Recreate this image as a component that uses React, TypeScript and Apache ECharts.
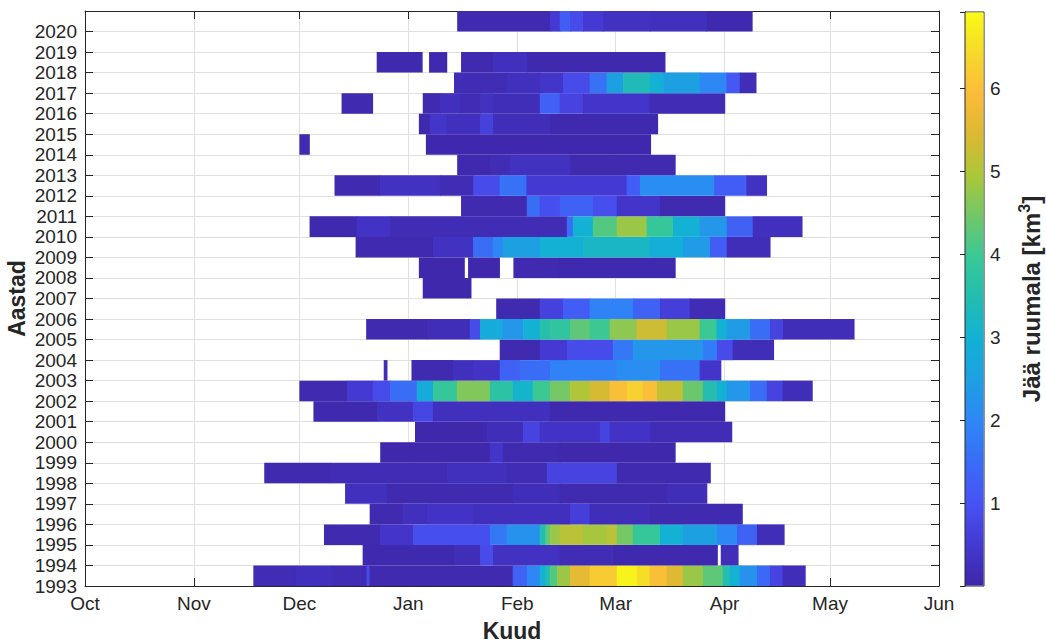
import React, { useEffect, useRef } from 'react';
import * as echarts from 'echarts';

// Each run: [startDay, endDay, value] — days counted from 1 October of the season
type Run = [number, number, number];

const MONTH_LABELS = ['Oct', 'Nov', 'Dec', 'Jan', 'Feb', 'Mar', 'Apr', 'May', 'Jun'];
const MONTH_START_DAYS = [0, 31, 61, 92, 123, 151, 182, 212, 243];
const COLORBAR_TICKS = [1, 2, 3, 4, 5, 6];
const CB_MIN = 0;
const CB_MAX = 6.92;

const Y1993: Run[] = [[47.9, 60, 0.15], [60, 70, 0.25], [70, 80.1, 0.15], [80.1, 80.9, 0.85], [80.9, 121.7, 0.1], [121.7, 125.7, 1.3], [125.7, 129.4, 2.0], [129.4, 131, 3.0], [131, 132.3, 3.5], [132.3, 134.3, 4.2], [134.3, 138.0, 4.8], [138.0, 143.6, 5.6], [143.6, 151.3, 6.2], [151.3, 157.0, 6.8], [157.0, 160.7, 6.5], [160.7, 165.5, 6.0], [165.5, 170.1, 5.5], [170.1, 175.8, 4.8], [175.8, 181.5, 4.3], [181.5, 183.5, 3.5], [183.5, 186.3, 3.0], [186.3, 191.2, 2.2], [191.2, 194.9, 1.4], [194.9, 198.5, 0.7], [198.5, 204.9, 0.2]];
const Y1994: Run[] = [[79.0, 105.0, 0.08], [105.0, 112.4, 0.2], [112.4, 116.1, 0.85], [116.1, 135.1, 0.3], [135.1, 150, 0.15], [150, 179.9, 0.08], [180.9, 185.8, 0.2]];
const Y1995: Run[] = [[68.0, 83.9, 0.1], [83.9, 93.3, 0.4], [93.3, 115.2, 0.9], [115.2, 120.0, 1.7], [120.0, 129.4, 2.2], [129.4, 131, 3.5], [131, 132.3, 4.3], [132.3, 135.1, 4.8], [135.1, 141.7, 5.1], [141.7, 148.5, 4.9], [148.5, 151.3, 5.1], [151.3, 155.9, 4.5], [155.9, 163.6, 3.9], [163.6, 170.1, 3.0], [170.1, 179.8, 2.5], [179.8, 185.5, 2.0], [185.5, 191.2, 1.3], [191.2, 198.9, 0.2]];
const Y1996: Run[] = [[81.0, 90.5, 0.1], [90.5, 97.3, 0.25], [97.3, 110.4, 0.35], [110.4, 138.0, 0.25], [138.0, 143.6, 0.6], [143.6, 160.7, 0.2], [160.7, 187.0, 0.1]];
const Y1997: Run[] = [[74.0, 85.9, 0.25], [85.9, 121.7, 0.1], [121.7, 135.1, 0.2], [135.1, 165.5, 0.1], [165.5, 176.9, 0.2]];
const Y1998: Run[] = [[51.0, 69.7, 0.1], [69.7, 103.0, 0.15], [103.0, 120.0, 0.25], [120.0, 131.4, 0.15], [131.4, 151.3, 0.7], [151.3, 177.9, 0.1]];
const Y1999: Run[] = [[84.0, 115.2, 0.05], [115.2, 118.9, 0.4], [118.9, 135.1, 0.1], [135.1, 167.9, 0.05]];
const Y2000: Run[] = [[93.9, 114.3, 0.05], [114.3, 124.6, 0.2], [124.6, 129.4, 0.7], [129.4, 146.5, 0.35], [146.5, 149.3, 0.7], [149.3, 160.7, 0.35], [160.7, 184.0, 0.15]];
const Y2001: Run[] = [[65.0, 83.1, 0.08], [83.1, 93.3, 0.3], [93.3, 99.0, 0.75], [99.0, 132.3, 0.25], [132.3, 182.0, 0.08]];
const Y2002: Run[] = [[61.0, 74.5, 0.1], [74.5, 81.9, 0.5], [81.9, 86.8, 0.85], [86.8, 94.4, 1.5], [94.4, 99.0, 2.8], [99.0, 105.8, 3.9], [105.8, 115.2, 4.6], [115.2, 121.7, 3.7], [121.7, 127.4, 3.1], [127.4, 132.3, 4.0], [132.3, 138.0, 4.5], [138.0, 143.6, 5.0], [143.6, 149.3, 5.4], [149.3, 154.2, 6.0], [154.2, 158.7, 6.3], [158.7, 162.7, 6.0], [162.7, 170.1, 5.2], [170.1, 175.8, 4.4], [175.8, 179.8, 3.5], [179.8, 182.6, 3.0], [182.6, 189.2, 2.3], [189.2, 194.0, 1.5], [194.0, 198.5, 0.7], [198.5, 206.9, 0.2]];
const Y2003: Run[] = [[85.0, 85.9, 0.2], [92.9, 104.7, 0.1], [104.7, 110.4, 0.25], [110.4, 118.0, 0.35], [118.0, 123.7, 1.3], [123.7, 132.3, 1.5], [132.3, 151.3, 1.9], [151.3, 163.6, 2.1], [163.6, 174.9, 1.6], [174.9, 180.9, 0.4]];
const Y2004: Run[] = [[118.0, 129.4, 0.1], [129.4, 137.1, 0.5], [137.1, 150.2, 0.85], [150.2, 155.9, 1.7], [155.9, 175.8, 2.3], [175.8, 179.8, 1.8], [179.8, 184.3, 0.85], [184.3, 195.9, 0.2]];
const Y2005: Run[] = [[80.0, 97.3, 0.1], [97.3, 109.5, 0.2], [109.5, 112.4, 0.85], [112.4, 118.9, 2.8], [118.9, 124.7, 2.3], [124.7, 129.4, 3.0], [129.4, 132.3, 3.6], [132.3, 138.0, 3.8], [138.0, 143.6, 4.3], [143.6, 149.3, 4.0], [149.3, 156.9, 4.7], [156.9, 165.5, 5.3], [165.5, 174.9, 4.8], [174.9, 179.7, 4.0], [179.7, 182.5, 3.0], [182.5, 189.2, 2.4], [189.2, 194.9, 1.5], [194.9, 198.6, 0.7], [198.6, 218.8, 0.2]];
const Y2006: Run[] = [[117.0, 129.4, 0.1], [129.4, 136.0, 0.65], [136.0, 143.6, 1.2], [143.6, 155.9, 1.9], [155.9, 163.6, 1.3], [163.6, 172.1, 0.6], [172.1, 182.0, 0.15]];
const Y2007: Run[] = [[96.1, 109.8, 0.05]];
const Y2008: Run[] = [[95.0, 107.9, 0.05], [109.0, 117.9, 0.05], [121.9, 135, 0.1], [135, 167.9, 0.08]];
const Y2009: Run[] = [[77.0, 99.0, 0.1], [99.0, 110.4, 0.3], [110.4, 116.1, 1.5], [116.1, 118.9, 2.0], [118.9, 129.4, 2.5], [129.4, 141.7, 3.0], [141.7, 160.7, 3.2], [160.7, 170.1, 2.9], [170.1, 177.8, 2.4], [177.8, 182.6, 1.2], [182.6, 194.9, 0.2]];
const Y2010: Run[] = [[63.9, 77.4, 0.08], [77.4, 86.8, 0.35], [86.8, 137.1, 0.15], [137.1, 138.8, 1.5], [138.8, 144.5, 3.0], [144.5, 151.3, 4.2], [151.3, 159.8, 4.8], [159.8, 167.3, 3.9], [167.3, 174.9, 3.0], [174.9, 182.6, 2.3], [182.6, 190.0, 1.3], [190.0, 204.0, 0.25]];
const Y2011: Run[] = [[107.0, 125.7, 0.1], [125.7, 129.4, 1.5], [129.4, 135.1, 0.9], [135.1, 144.5, 1.3], [144.5, 151.3, 0.9], [151.3, 163.6, 0.4], [163.6, 182.0, 0.1]];
const Y2012: Run[] = [[71.0, 83.9, 0.1], [83.9, 101.0, 0.3], [101.0, 110.5, 0.15], [110.5, 118.0, 0.85], [118.0, 125.6, 1.6], [125.6, 154.1, 0.5], [154.1, 157.9, 1.2], [157.9, 179.0, 2.1], [179.0, 188.2, 1.2], [188.2, 193.9, 0.3]];
const Y2013: Run[] = [[105.9, 115.2, 0.08], [115.2, 120.9, 0.15], [120.9, 138.0, 0.3], [138.0, 167.9, 0.1]];
const Y2014: Run[] = [[61.0, 63.8, 0.1], [97.0, 160.9, 0.06]];
const Y2015: Run[] = [[95.0, 98.1, 0.08], [98.1, 102.9, 0.4], [102.9, 112.4, 0.25], [112.4, 116.1, 0.65], [116.1, 132.3, 0.2], [132.3, 162.9, 0.08]];
const Y2016: Run[] = [[73.0, 81.8, 0.1], [96.1, 101.0, 0.1], [101.0, 106.7, 0.25], [106.7, 112.4, 0.15], [112.4, 116.1, 0.3], [116.1, 129.4, 0.2], [129.4, 135.1, 1.25], [135.1, 141.7, 0.7], [141.7, 160.7, 0.4], [160.7, 182.0, 0.15]];
const Y2017: Run[] = [[105.0, 120.0, 0.15], [120.0, 129.4, 0.25], [129.4, 136.0, 0.4], [136.0, 143.6, 0.85], [143.6, 148.4, 1.6], [148.4, 153.1, 2.5], [153.1, 160.7, 3.4], [160.7, 164.5, 3.0], [164.5, 174.9, 2.5], [174.9, 182.5, 2.0], [182.5, 186.3, 1.1], [186.3, 190.9, 0.2]];
const Y2018: Run[] = [[83.0, 95.9, 0.08], [97.9, 102.9, 0.08], [107.0, 116.1, 0.1], [116.1, 125.7, 0.25], [125.7, 165.0, 0.08]];
const Y2019: Run[] = [];
const Y2020: Run[] = [[105.9, 132.3, 0.1], [132.3, 135.1, 0.5], [135.1, 138.0, 1.2], [138.0, 141.7, 0.85], [141.7, 147.4, 0.5], [147.4, 160.7, 0.3], [160.7, 176.8, 0.25], [176.8, 189.8, 0.08]];

const SEASONS: Array<[number, Run[]]> = [
  [1993, Y1993], [1994, Y1994], [1995, Y1995], [1996, Y1996], [1997, Y1997], [1998, Y1998], [1999, Y1999],
  [2000, Y2000], [2001, Y2001], [2002, Y2002], [2003, Y2003], [2004, Y2004], [2005, Y2005], [2006, Y2006],
  [2007, Y2007], [2008, Y2008], [2009, Y2009], [2010, Y2010], [2011, Y2011], [2012, Y2012], [2013, Y2013],
  [2014, Y2014], [2015, Y2015], [2016, Y2016], [2017, Y2017], [2018, Y2018], [2019, Y2019], [2020, Y2020],
];

const PARULA = [
  '#3e26a8', '#4439d2', '#4852f4', '#3a6cf6', '#2e87f7', '#1e9fe3', '#12b1d6', '#22bcb2',
  '#37c897', '#70c76a', '#abc739', '#dab932', '#fbbb3a', '#f6d92b', '#f9fb15',
];

const FONT = "'Liberation Sans', Arial, Helvetica, sans-serif";
const TEXT = '#262626';
const AXIS = '#262626';
const GRIDLINE = '#e0e0e0';

export default function App() {
  const ref = useRef<HTMLDivElement>(null);

  useEffect(() => {
    if (!ref.current) return;
    const chart = echarts.init(ref.current, undefined, { renderer: 'svg' });

    const heatData = SEASONS.flatMap(([yr, runs]) => runs.map(([s, e, v]) => [s, e, yr, v]));

    const monthFmt = (v: number) => {
      const i = MONTH_START_DAYS.indexOf(v);
      return i >= 0 ? MONTH_LABELS[i] : '';
    };

    const option: any = {
      animation: false,
      backgroundColor: '#ffffff',
      textStyle: { fontFamily: FONT },
      grid: [
        { left: 85, top: 11, width: 854, height: 575, show: false, containLabel: false, outerBoundsMode: 'none' },
        { left: 965, top: 12, width: 19, height: 574, show: true, borderColor: AXIS, borderWidth: 1, backgroundColor: 'transparent', containLabel: false, outerBoundsMode: 'none' },
      ],
      xAxis: [
        {
          type: 'value', gridIndex: 0, min: 0, max: 243, position: 'bottom',
          axisLine: { show: true, onZero: false, lineStyle: { color: AXIS, width: 1 } },
          axisTick: { show: true, inside: true, length: 8, customValues: MONTH_START_DAYS, lineStyle: { color: AXIS } },
          axisLabel: { customValues: MONTH_START_DAYS, formatter: monthFmt, color: TEXT, fontSize: 19, margin: 8, fontFamily: FONT },
          splitLine: { show: true, lineStyle: { color: GRIDLINE, width: 1 } },
          name: 'Kuud', nameLocation: 'middle', nameGap: 33, nameMoveOverlap: false,
          nameTextStyle: { color: TEXT, fontSize: 23, fontWeight: 'bold', fontFamily: FONT },
        },
        { type: 'value', gridIndex: 1, min: 0, max: 1, show: false },
        {
          type: 'value', gridIndex: 0, min: 0, max: 243, position: 'top',
          axisLine: { show: true, onZero: false, lineStyle: { color: AXIS, width: 1 } },
          axisTick: { show: true, inside: true, length: 8, customValues: MONTH_START_DAYS, lineStyle: { color: AXIS } },
          axisLabel: { show: false },
          splitLine: { show: false },
        },
      ],
      yAxis: [
        {
          type: 'value', gridIndex: 0, min: 1993, max: 2021, interval: 1, position: 'left',
          axisLine: { show: true, onZero: false, lineStyle: { color: AXIS, width: 1 } },
          axisTick: { show: true, inside: true, length: 8, lineStyle: { color: AXIS } },
          axisLabel: { color: TEXT, fontSize: 19, margin: 8, fontFamily: FONT, formatter: (v: number) => (v >= 2021 ? '' : String(v)) },
          splitLine: { show: true, lineStyle: { color: GRIDLINE, width: 1 } },
          name: 'Aastad', nameLocation: 'middle', nameGap: 57, nameRotate: 90, nameMoveOverlap: false,
          nameTextStyle: { color: TEXT, fontSize: 23, fontWeight: 'bold', fontFamily: FONT },
        },
        {
          type: 'value', gridIndex: 1, min: CB_MIN, max: CB_MAX, interval: 1, position: 'right',
          axisLine: { show: true, lineStyle: { color: AXIS, width: 1 } },
          axisTick: { show: true, inside: true, length: 5, lineStyle: { color: AXIS } },
          axisLabel: {
            color: TEXT, fontSize: 19, margin: 6, fontFamily: FONT,
            formatter: (v: number) => (COLORBAR_TICKS.indexOf(v) >= 0 ? String(v) : ''),
          },
          splitLine: { show: false },
          name: 'Jää ruumala [km{sup|3}]', nameLocation: 'middle', nameGap: 32, nameRotate: 90,
          nameTextStyle: {
            color: TEXT, fontSize: 24, fontWeight: 'bold', fontFamily: FONT, lineHeight: 30,
            rich: { sup: { color: TEXT, fontSize: 16, fontWeight: 'bold', fontFamily: FONT, verticalAlign: 'top', lineHeight: 16 } },
          },
        },
        {
          type: 'value', gridIndex: 0, min: 1993, max: 2021, interval: 1, position: 'right',
          axisLine: { show: true, onZero: false, lineStyle: { color: AXIS, width: 1 } },
          axisTick: { show: true, inside: true, length: 8, lineStyle: { color: AXIS } },
          axisLabel: { show: false },
          splitLine: { show: false },
        },
      ],
      visualMap: {
        type: 'continuous', show: false, min: CB_MIN, max: CB_MAX, dimension: 3, seriesIndex: 0,
        inRange: { color: PARULA },
      },
      series: [
        {
          type: 'custom', xAxisIndex: 0, yAxisIndex: 0, silent: true,
          encode: { x: [0, 1], y: 2 },
          data: heatData,
          renderItem: (params: any, api: any) => {
            const s = api.value(0);
            const e = api.value(1);
            const yr = api.value(2);
            const tl = api.coord([s, yr + 1]);
            const br = api.coord([e, yr]);
            return {
              type: 'rect',
              shape: { x: tl[0], y: tl[1], width: br[0] - tl[0] + 0.6, height: br[1] - tl[1] },
              style: { fill: api.visual('color'), stroke: null },
            };
          },
        },
        {
          type: 'custom', xAxisIndex: 1, yAxisIndex: 1, silent: true,
          encode: { x: [0, 1], y: [2, 3] },
          data: [[0, 1, CB_MIN, CB_MAX]],
          renderItem: (params: any, api: any) => {
            const tl = api.coord([0, CB_MAX]);
            const br = api.coord([1, CB_MIN]);
            return {
              type: 'rect',
              shape: { x: tl[0] + 0.5, y: tl[1] + 0.5, width: br[0] - tl[0] - 1, height: br[1] - tl[1] - 1 },
              style: {
                fill: new echarts.graphic.LinearGradient(0, 1, 0, 0,
                  PARULA.map((c, i) => ({ offset: i / (PARULA.length - 1), color: c }))),
                stroke: null,
              },
            };
          },
        },
      ],
    };

    chart.setOption(option);
    return () => chart.dispose();
  }, []);

  return (
    <div
      ref={ref}
      style={{ position: 'absolute', left: 0, top: 0, width: 1046, height: 642, background: '#fff' }}
    />
  );
}
